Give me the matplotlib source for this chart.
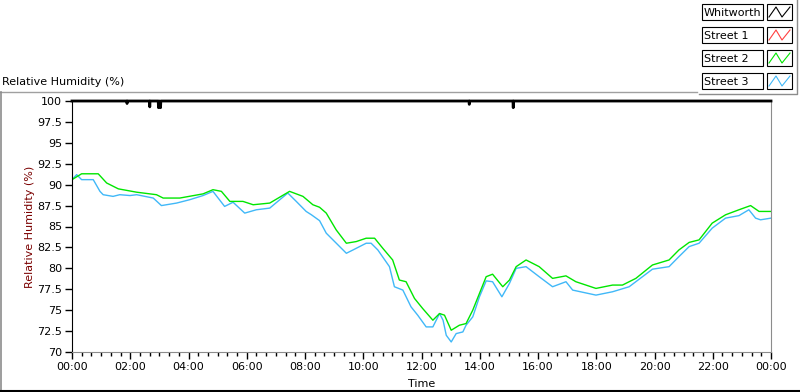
import matplotlib
matplotlib.use("Agg")
import matplotlib.pyplot as plt
from matplotlib.lines import Line2D
from matplotlib.patches import Rectangle

plt.rcParams['font.family'] = ['DejaVu Sans']

# series names and colours
names = ["Whitworth", "Street 1", "Street 2", "Street 3"]
colors = ["#000000", "#ff4040", "#00e600", "#40b8f8"]

# Whitworth sits on 100 with a few short dips
whit_t = [0, 1.88, 1.89, 1.90, 2.66, 2.67, 2.68, 2.96, 2.97, 3.00, 3.04, 3.05,
          13.63, 13.64, 13.65, 15.14, 15.15, 15.16, 24]
whit_v = [100, 100, 99.7, 100, 100, 99.3, 100, 100, 99.2, 100, 99.2, 100,
          100, 99.6, 100, 100, 99.2, 100, 100]

# Street 2 (green)
s2_t = [0.0, 0.33, 0.90, 1.19, 1.59, 2.22, 2.90, 3.13, 3.70, 4.50, 4.84, 5.13,
        5.42, 5.87, 6.22, 6.79, 7.47, 7.93, 8.27, 8.50, 8.73, 9.07, 9.42, 9.76,
        10.10, 10.39, 10.67, 11.01, 11.24, 11.47, 11.76, 12.04, 12.39, 12.62,
        12.79, 13.02, 13.30, 13.53, 13.76, 13.99, 14.22, 14.44, 14.79, 15.02,
        15.25, 15.59, 16.04, 16.50, 16.96, 17.30, 17.99, 18.56, 18.90, 19.36,
        19.93, 20.50, 20.84, 21.19, 21.53, 21.98, 22.44, 22.90, 23.30, 23.59, 24.0]
s2_v = [90.6, 91.3, 91.3, 90.2, 89.5, 89.1, 88.8, 88.4, 88.4, 88.9, 89.4, 89.2,
        88.0, 88.0, 87.6, 87.8, 89.2, 88.6, 87.6, 87.3, 86.6, 84.6, 83.0, 83.2,
        83.6, 83.6, 82.4, 81.0, 78.6, 78.4, 76.4, 75.2, 73.8, 74.6,
        74.4, 72.6, 73.2, 73.4, 75.0, 77.0, 79.0, 79.3, 77.8, 78.6,
        80.2, 81.0, 80.2, 78.8, 79.1, 78.4, 77.6, 78.0, 78.0, 78.8,
        80.4, 81.0, 82.2, 83.1, 83.4, 85.4, 86.4, 87.0, 87.5, 86.8, 86.8]

# Street 3 (blue)
s3_t = [0.0, 0.16, 0.33, 0.73, 0.96, 1.07, 1.41, 1.64, 1.99, 2.22, 2.79, 3.07,
        3.59, 4.04, 4.50, 4.84, 5.24, 5.53, 5.93, 6.33, 6.79, 7.41, 7.70, 8.04,
        8.22, 8.50, 8.73, 8.96, 9.42, 9.65, 10.10, 10.27, 10.50, 10.90, 11.07,
        11.36, 11.64, 11.87, 12.16, 12.39, 12.62, 12.74, 12.85, 13.02, 13.19,
        13.42, 13.53, 13.76, 13.99, 14.22, 14.44, 14.76, 15.02, 15.25, 15.59,
        16.04, 16.50, 16.96, 17.19, 17.99, 18.56, 19.13, 19.93, 20.50, 20.84,
        21.19, 21.53, 21.98, 22.44, 22.90, 23.24, 23.47, 23.64, 24.0]
s3_v = [90.6, 91.2, 90.6, 90.6, 89.2, 88.8, 88.6, 88.8, 88.7, 88.8, 88.4, 87.5,
        87.8, 88.2, 88.7, 89.2, 87.4, 87.9, 86.6, 87.0, 87.2, 89.0, 88.0, 86.8,
        86.4, 85.7, 84.2, 83.4, 81.8, 82.2, 83.0, 83.0, 82.2, 80.2, 77.8,
        77.4, 75.4, 74.4, 73.0, 73.0, 74.6, 73.8, 72.0, 71.2, 72.2,
        72.4, 73.2, 74.2, 76.6, 78.5, 78.4, 76.6, 78.2, 80.0, 80.2,
        79.0, 77.8, 78.4, 77.4, 76.8, 77.2, 77.8, 79.9, 80.2, 81.4,
        82.6, 83.0, 84.8, 86.0, 86.3, 87.0, 86.0, 85.8, 86.0]

y_ticks = [70, 72.5, 75, 77.5, 80, 82.5, 85, 87.5, 90, 92.5, 95, 97.5, 100]
x_ticks = list(range(0, 25, 2))
x_labels = ["%02d:00" % (h % 24) for h in x_ticks]

W, H = 800, 392
fig = plt.figure(figsize=(8, 3.92), dpi=100)

ax = fig.add_axes([72 / W, 1 - 352 / H, (771 - 72) / W, (352 - 101) / H])
ax.plot(s3_t, s3_v, color=colors[3], lw=1)
ax.plot(s2_t, s2_v, color=colors[2], lw=1)
ax.plot(whit_t, whit_v, color=colors[0], lw=2, clip_on=False, zorder=5)

ax.set_xlim(0, 24)
ax.set_ylim(70, 100)
ax.set_yticks(y_ticks)
ax.set_yticklabels(["%g" % v for v in y_ticks])
ax.set_xticks(x_ticks)
ax.set_xticklabels(x_labels)
ax.set_xticks([m / 3 for m in range(0, 73) if m % 6], minor=True)
ax.tick_params(axis='both', which='major', length=5, width=1, labelsize=8, pad=2)
ax.tick_params(axis='x', which='minor', length=3, width=1)
ax.tick_params(axis='y', which='minor', length=0)
ax.spines['left'].set_color('black')
for s in ['bottom', 'right', 'top']:
    ax.spines[s].set_color('#8c8c8c')
ax.set_ylabel("Relative Humidity (%)", color='#7a0000', fontsize=8, labelpad=2)
ax.set_xlabel("Time", fontsize=8, labelpad=5)

# panel caption and frame
fig.text(2 / W, 1 - 82 / H, "Relative Humidity (%)", fontsize=8, va='center', ha='left')
fig.add_artist(Line2D([0, 697 / W], [1 - 91.5 / H] * 2, color='#a0a0a0', lw=1))
fig.add_artist(Line2D([0.6 / W] * 2, [0, 1 - 91.5 / H], color='#8c8c8c', lw=1.2))
fig.add_artist(Line2D([0, 1], [0.8 / H] * 2, color='black', lw=1.5))

# legend panel (pixel coordinates)
lg = fig.add_axes([0, 0, 1, 1], zorder=10)
lg.set_xlim(0, W)
lg.set_ylim(H, 0)
lg.axis('off')
lg.plot([699, 797, 797], [93.5, 93.5, 0], color='#8c8c8c', lw=1)
row_top = [4, 27, 50, 73]
for name, c, top in zip(names, colors, row_top):
    lg.add_patch(Rectangle((702, top), 61, 16, fill=True, facecolor='white',
                           edgecolor='black', lw=0.8))
    lg.add_patch(Rectangle((767, top), 25, 16, fill=True, facecolor='white',
                           edgecolor='black', lw=0.8))
    lg.text(704, top + 8.5, name, fontsize=8, va='center', ha='left')
    lg.plot([769, 776, 782, 790], [top + 13, top + 3, top + 13, top + 3],
            color=c, lw=0.8)

fig.savefig("out.png", dpi=100)
